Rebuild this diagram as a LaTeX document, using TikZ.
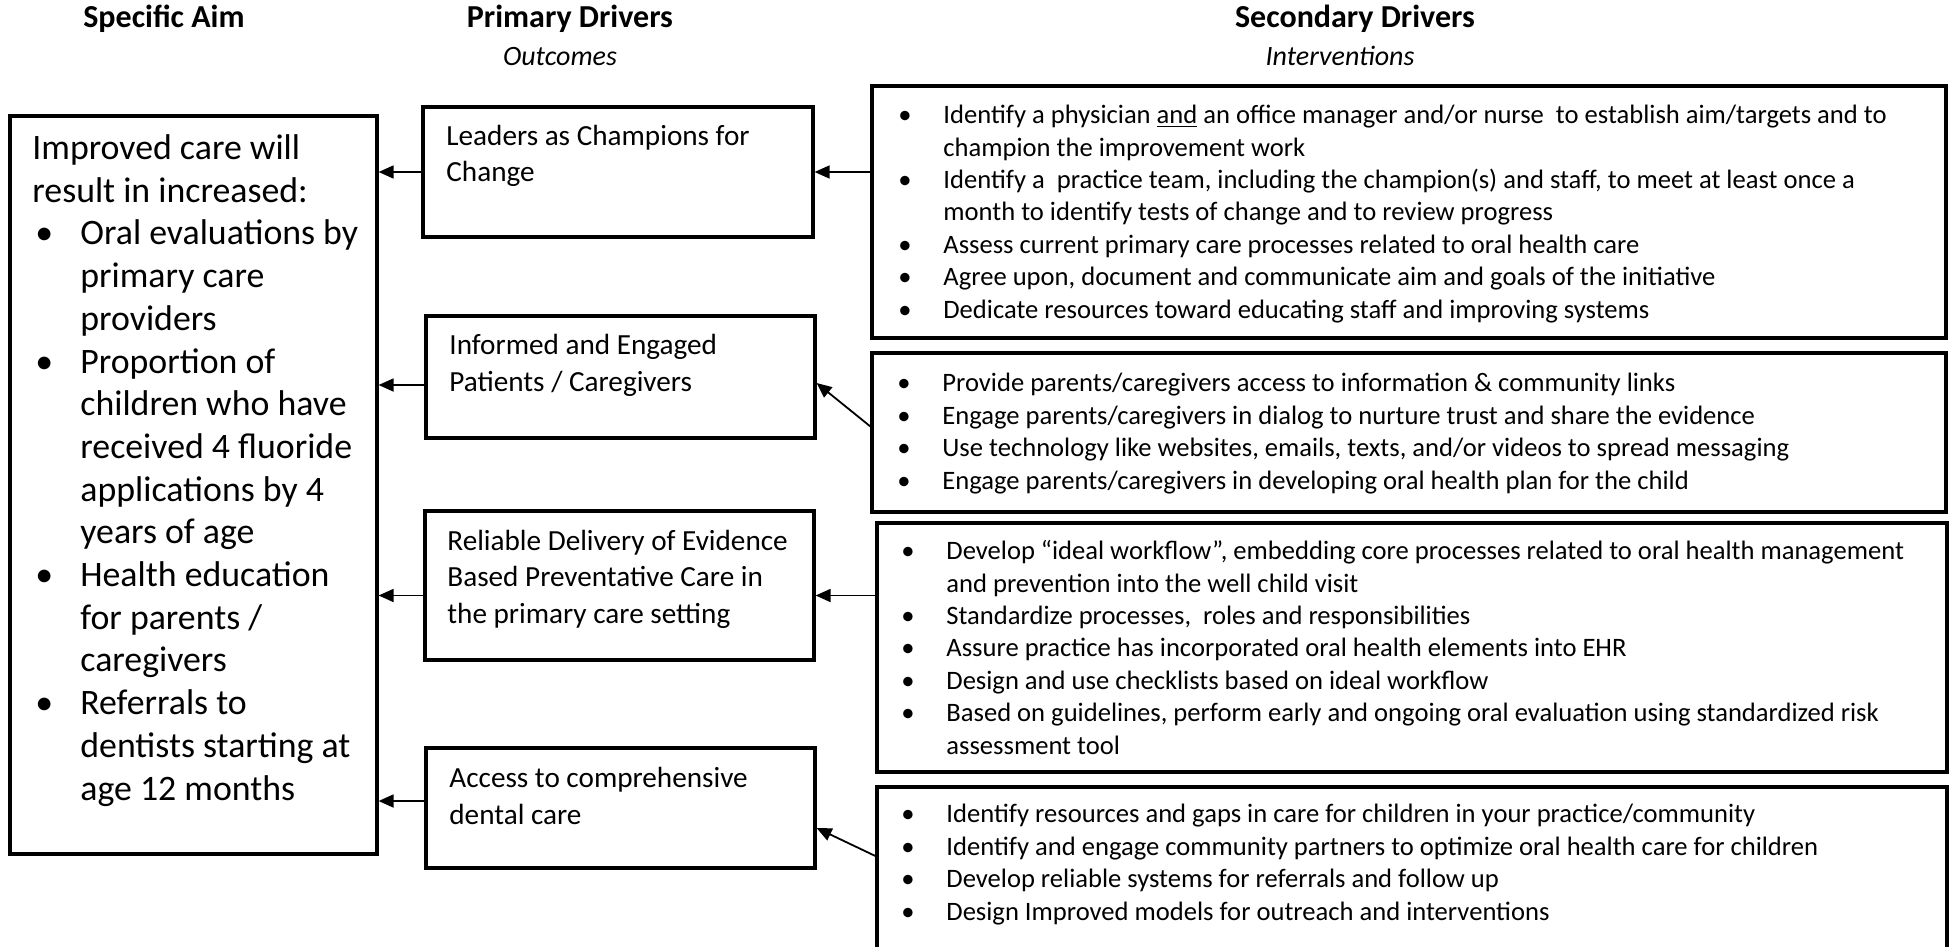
\documentclass[tikz,border=0pt]{standalone}
\usepackage{fontspec}
\setmainfont{Carlito}
\usetikzlibrary{arrows.meta,fit}

%% bullets with hanging indent
\newcommand{\aimbul}{\makebox[24pt][l]{\hspace{1.5pt}\textbullet}}
\newcommand{\aimind}{\hspace*{24pt}}
\newcommand{\secbul}{\makebox[23.5pt][l]{\hspace{1pt}\textbullet}}
\newcommand{\secind}{\hspace*{23.5pt}}

\begin{document}
\begin{tikzpicture}
[x=0.5pt,y=-0.5pt,
  boxDecorate/.style={draw,line width=1.6pt,inner sep=0pt},%
  arrowDecorate/.style={-{Triangle[length=7.5pt,width=6.5pt]},line width=0.9pt},%
  headDecorate/.style={anchor=base,inner sep=0pt,font=\fontsize{16pt}{19pt}\selectfont\bfseries},%
  subheadDecorate/.style={anchor=base,inner sep=0pt,font=\fontsize{14pt}{17pt}\selectfont\itshape},%
  %% multi-line texts sit on the baseline of their last line
  aimText/.style={anchor=base west,align=left,inner sep=0pt,font=\fontsize{17.9pt}{21.35pt}\selectfont},%
  driverText/.style={anchor=base west,align=left,inner sep=0pt,font=\fontsize{14.6pt}{18.2pt}\selectfont},%
  secText/.style={anchor=base west,align=left,inner sep=0pt,font=\fontsize{13.3pt}{16.2pt}\selectfont}]
\path[fill=white,use as bounding box] (0,0) rectangle (1954,947);
\clip (0,0) rectangle (1954,947);

%% column titles
\node[headDecorate] (hAim) at (164,28) {Specific Aim};
\node[headDecorate] (hPrim) at (570,28) {Primary Drivers};
\node[subheadDecorate] (hOut) at (560,66) {Outcomes};
\node[headDecorate] (hSec) at (1355,28) {Secondary Drivers};
\node[subheadDecorate] (hInt) at (1340,66) {Interventions};

%% boxes
\foreach \nodename/\xa/\ya/\xb/\yb in {
  %% specific aim
  aim/10/116/377/854,
  %% primary drivers
  d1/423/107/813/237, d2/426/316/815/438, d3/425/511/814/660,
  d4/426/748/815/868,
  %% secondary drivers
  s1/872/86/1946/338, s2/872/353/1946/512, s3/877/523/1947/772,
  s4/877/787/1947/975}
{
  \node[boxDecorate,fit={(\xa,\ya) (\xb,\yb)}] (\nodename) {};
}

%% aim text
\node[aimText] (aimtxt) at (32,800) {Improved care will\\
  result in increased:\\
  \aimbul Oral evaluations by\\
  \aimind primary care\\
  \aimind providers\\
  \aimbul Proportion of\\
  \aimind children who have\\
  \aimind received 4 fluoride\\
  \aimind applications by 4\\
  \aimind years of age\\
  \aimbul Health education\\
  \aimind for parents /\\
  \aimind caregivers\\
  \aimbul Referrals to\\
  \aimind dentists starting at\\
  \aimind age 12 months};

%% driver texts
\node[driverText] (d1txt) at (446,182) {Leaders as Champions for\\Change};
\node[driverText] (d2txt) at (449,391) {Informed and Engaged\\Patients / Caregivers};
\node[driverText] (d3txt) at (447,623) {Reliable Delivery of Evidence\\Based Preventative Care in\\the primary care setting};
\node[driverText] (d4txt) at (449,824) {Access to comprehensive\\dental care};

%% secondary texts
\node[secText] (s1txt) at (896,318) {%
  \secbul Identify a physician \underline{and} an office manager and/or nurse\ \ to establish aim/targets and to\\
  \secind champion the improvement work\\
  \secbul Identify a\ \ practice team, including the champion(s) and staff, to meet at least once a\\
  \secind month to identify tests of change and to review progress\\
  \secbul Assess current primary care processes related to oral health care\\
  \secbul Agree upon, document and communicate aim and goals of the initiative\\
  \secbul Dedicate resources toward educating staff and improving systems};
\node[secText] (s2txt) at (895,489) {%
  \secbul Provide parents/caregivers access to information \& community links\\
  \secbul Engage parents/caregivers in dialog to nurture trust and share the evidence\\
  \secbul Use technology like websites, emails, texts, and/or videos to spread messaging\\
  \secbul Engage parents/caregivers in developing oral health plan for the child};
\node[secText] (s3txt) at (899,754) {%
  \secbul Develop “ideal workflow”, embedding core processes related to oral health management\\
  \secind and prevention into the well child visit\\
  \secbul Standardize processes,\ \ roles and responsibilities\\
  \secbul Assure practice has incorporated oral health elements into EHR\\
  \secbul Design and use checklists based on ideal workflow\\
  \secbul Based on guidelines, perform early and ongoing oral evaluation using standardized risk\\
  \secind assessment tool};
\node[secText] (s4txt) at (899,920) {%
  \secbul Identify resources and gaps in care for children in your practice/community\\
  \secbul Identify and engage community partners to optimize oral health care for children\\
  \secbul Develop reliable systems for referrals and follow up\\
  \secbul Design Improved models for outreach and interventions};

%% arrows: secondary -> primary -> aim
\draw[arrowDecorate] (d1.east -| s1.west) -- (d1.east);
\draw[arrowDecorate] ([yshift=3pt]s2.west) -- ([yshift=-3pt]d2.east);
\draw[arrowDecorate] ([yshift=-5pt]d3.east -| s3.west) -- ([yshift=-5pt]d3.east);
\draw[arrowDecorate] ([yshift=12.5pt]s4.west) -- ([yshift=-10pt]d4.east);
\draw[arrowDecorate] (d1.west) -- (d1.west -| aim.east);
\draw[arrowDecorate] ([yshift=-4pt]d2.west) -- ([yshift=-4pt]d2.west -| aim.east);
\draw[arrowDecorate] ([yshift=-5pt]d3.west) -- ([yshift=-5pt]d3.west -| aim.east);
\draw[arrowDecorate] ([yshift=3.5pt]d4.west) -- ([yshift=3.5pt]d4.west -| aim.east);
\end{tikzpicture}
\end{document}
